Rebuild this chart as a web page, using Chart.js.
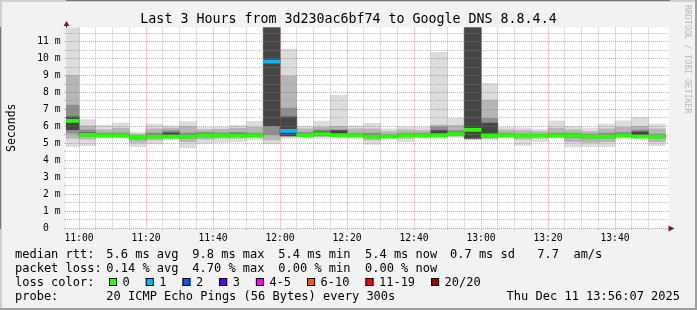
<!DOCTYPE html>
<html>
<head>
<meta charset="utf-8">
<script src="https://cdn.jsdelivr.net/npm/chart.js@4/dist/chart.umd.min.js"></script>
<style>
  html, body { margin: 0; padding: 0; background: #f2f2f2; }
  #wrap { width: 697px; height: 310px; }
</style>
</head>
<body>
<div id="wrap"><canvas id="smoke" width="697" height="310"></canvas></div>
<script>
// 5 minute slots (start times)
const slotTimes = ['10:55','11:00','11:05','11:10','11:15','11:20','11:25','11:30','11:35','11:40','11:45','11:50',
                   '11:55','12:00','12:05','12:10','12:15','12:20','12:25','12:30','12:35','12:40','12:45','12:50',
                   '12:55','13:00','13:05','13:10','13:15','13:20','13:25','13:30','13:35','13:40','13:45','13:50'];
const timeLabels = ['11:00','11:20','11:40','12:00','12:20','12:40','13:00','13:20','13:40'];
const viewStart = '10:56:07';
const viewEnd = '13:56:07';

// median rtt (ms) and lost pings per slot
const medianRtt = [6.32,5.50,5.45,5.45,5.35,5.40,5.40,5.40,5.47,5.45,5.45,5.45,
                   9.82,5.73,5.49,5.55,5.49,5.47,5.40,5.40,5.47,5.45,5.49,5.55,
                   5.79,5.47,5.47,5.45,5.45,5.45,5.49,5.40,5.40,5.45,5.40,5.40];
const lossCount = [0,0,0,0,0,0,0,0,0,0,0,0,
                   1,1,0,0,0,0,0,0,0,0,0,0,
                   0,0,0,0,0,0,0,0,0,0,0,0];

// smoke bands, outermost first (ms)
const smokeMin = [4.80,4.86,5.30,5.33,4.80,4.96,5.20,4.74,5.00,5.06,5.10,5.20,
                  4.98,5.30,5.30,5.30,5.30,5.30,4.94,5.30,5.10,5.30,5.30,5.35,
                  5.20,5.20,5.30,4.88,5.10,5.30,4.78,4.80,4.80,5.30,5.30,4.86];
const smokeMax = [13.5,6.40,6.06,6.20,5.65,6.14,6.04,6.28,5.94,5.96,6.07,6.30,
                  13.5,10.57,6.02,6.32,7.85,6.04,6.18,5.85,5.98,5.94,10.37,6.48,
                  13.5,8.54,5.94,5.92,5.82,6.33,6.00,5.90,6.14,6.33,6.53,6.14];
const band2Lo = [5.30,5.25,5.38,5.38,5.05,5.20,5.30,5.10,5.25,5.30,5.30,5.35,
                 5.20,5.38,5.38,5.40,5.38,5.38,5.20,5.34,5.30,5.38,5.38,5.42,
                 5.25,5.30,5.38,5.25,5.30,5.38,5.10,5.05,5.10,5.38,5.35,5.10];
const band2Hi = [9.00,6.04,5.80,5.90,5.55,5.85,5.90,6.00,5.80,5.82,5.90,5.95,
                 13.5,8.97,5.85,5.95,6.00,5.85,5.85,5.70,5.80,5.75,6.08,6.05,
                 13.5,7.56,5.80,5.75,5.70,5.90,5.80,5.70,5.85,5.95,6.00,5.85];
const band3Lo = [5.60,5.40,5.42,5.42,5.25,5.32,5.36,5.30,5.38,5.40,5.40,5.40,
                 5.49,5.42,5.42,5.45,5.42,5.42,5.32,5.37,5.40,5.42,5.42,5.48,
                 5.28,5.35,5.42,5.38,5.40,5.42,5.35,5.30,5.30,5.42,5.40,5.30];
const band3Hi = [7.26,5.80,5.60,5.62,5.45,5.62,5.75,5.62,5.65,5.62,5.65,5.60,
                 13.5,7.08,5.65,5.80,5.80,5.60,5.60,5.52,5.60,5.60,5.98,5.75,
                 13.5,6.47,5.60,5.55,5.55,5.60,5.60,5.55,5.60,5.65,5.80,5.55];
const band4Lo = [5.80,5.45,5.44,5.44,5.30,5.36,5.38,5.36,5.42,5.42,5.42,5.42,
                 6.04,5.45,5.44,5.48,5.45,5.44,5.36,5.38,5.42,5.44,5.45,5.50,
                 5.30,5.40,5.44,5.42,5.42,5.44,5.42,5.36,5.36,5.44,5.42,5.36];
const band4Hi = [6.57,5.62,5.52,5.52,5.40,5.48,5.62,5.48,5.55,5.52,5.55,5.52,
                 13.5,6.57,5.55,5.68,5.75,5.52,5.48,5.46,5.52,5.52,5.75,5.62,
                 13.5,6.20,5.52,5.50,5.50,5.52,5.55,5.46,5.46,5.52,5.68,5.46];

const lossLabels = ['0','1','2','3','4-5','6-10','11-19','20/20'];
const lossLimits = [0, 1, 2, 3, 5, 10, 19, 20];
const lossColors = ['#26ff00','#00b8ff','#0059ff','#5e00ff','#ff00ff','#ff5500','#ff0000','#a10000'];

const titleText = 'Last 3 Hours from 3d230ac6bf74 to Google DNS 8.8.4.4';
const statsRtt = [['median rtt:', 16], ['5.6 ms avg', 107.3], ['9.8 ms max', 193.3], ['5.4 ms min', 279.3],
                  ['5.4 ms now', 366], ['0.7 ms sd', 451], ['7.7  am/s', 538.3]];
const statsLoss = [['packet loss:', 16], ['0.14 % avg', 107.3], ['4.70 % max', 193.3], ['0.00 % min', 279.3],
                   ['0.00 % now', 366]];
const probeText = '20 ICMP Echo Pings (56 Bytes) every 300s';
const stampText = 'Thu Dec 11 13:56:07 2025';

const mono = 'DejaVu Sans Mono';
const toMin = t => { const p = t.split(':').map(Number); return p[0] * 60 + p[1] + (p[2] || 0) / 60; };
const fmt = v => { const h = Math.floor(v / 60), m = Math.round(v - h * 60); return h + ':' + String(m).padStart(2, '0'); };
const starts = slotTimes.map(toMin);
const centers = starts.map(s => s + 2.5);
const band = (lo, hi) => centers.map((x, i) => ({x: x, y: [lo[i], hi[i]]}));
const lossColor = n => lossColors[lossLimits.findIndex(l => n <= l)];

const rrdFrame = {
  id: 'rrdFrame',
  beforeDraw(chart) {
    const {ctx, width, height, chartArea: a} = chart;
    ctx.save();
    ctx.fillStyle = '#f2f2f2';
    ctx.fillRect(0, 0, width, height);
    ctx.fillStyle = '#cfcfcf';
    ctx.fillRect(0, 0, width, 2);
    ctx.fillRect(0, 0, 2, height);
    ctx.fillStyle = '#9e9e9e';
    ctx.fillRect(0, height - 2, width, 2);
    ctx.fillRect(width - 2, 0, 2, height);
    ctx.fillStyle = '#ffffff';
    ctx.fillRect(a.left, a.top, a.right - a.left, a.bottom - a.top);
    ctx.restore();
  },
  afterDraw(chart) {
    const {ctx, width, chartArea: a} = chart;
    ctx.save();
    // axis arrows
    ctx.strokeStyle = '#1f1f1f';
    ctx.lineWidth = 1;
    ctx.beginPath();
    ctx.moveTo(a.left + 0.5, a.top); ctx.lineTo(a.left + 0.5, a.top - 3);
    ctx.stroke();
    ctx.fillStyle = '#7f1f1f';
    ctx.beginPath();
    ctx.moveTo(a.left + 0.5, a.top - 6.5); ctx.lineTo(a.left + 3.5, a.top - 1.5); ctx.lineTo(a.left - 2.5, a.top - 1.5);
    ctx.closePath(); ctx.fill();
    ctx.beginPath();
    ctx.moveTo(a.right + 5.5, a.bottom + 0.5); ctx.lineTo(a.right - 0.5, a.bottom - 2.5); ctx.lineTo(a.right - 0.5, a.bottom + 3.5);
    ctx.closePath(); ctx.fill();

    // title
    ctx.font = '13.3px ' + mono;
    ctx.fillStyle = '#000';
    ctx.textAlign = 'center';
    ctx.textBaseline = 'middle';
    ctx.fillText(titleText, width / 2, 19.5);

    // watermark
    ctx.save();
    ctx.translate(687, 5);
    ctx.rotate(Math.PI / 2);
    ctx.font = '8.2px ' + mono;
    ctx.fillStyle = '#b8b8b8';
    ctx.textAlign = 'left';
    ctx.fillText('RRDTOOL / TOBI OETIKER', 0, 0);
    ctx.restore();

    // legend
    ctx.font = '12px ' + mono;
    ctx.fillStyle = '#000';
    ctx.textAlign = 'left';
    statsRtt.forEach(([t, x]) => ctx.fillText(t, x - 1, 254.5));
    statsLoss.forEach(([t, x]) => ctx.fillText(t, x - 1, 268.5));
    ctx.fillText('loss color:', 15, 282.5);
    let bx = 109;
    lossLabels.forEach((lab, i) => {
      ctx.fillStyle = lossColors[i];
      ctx.fillRect(bx, 278, 8, 8);
      ctx.strokeStyle = '#000';
      ctx.strokeRect(bx + 0.5, 278.5, 7, 7);
      ctx.fillStyle = '#000';
      const tx = bx + 14.5;
      ctx.fillText(lab, tx - 1, 282.5);
      bx = tx + ctx.measureText(lab).width + 15;
    });
    ctx.fillText('probe:', 15, 296.5);
    ctx.fillText(probeText, 106.3, 296.5);
    ctx.textAlign = 'right';
    ctx.fillText(stampText, 680, 296.5);
    ctx.restore();
  }
};

const minorGrid = 'rgba(143,143,143,0.55)';
const majorGrid = 'rgba(222,79,79,0.55)';

new Chart(document.getElementById('smoke'), {
  type: 'bar',
  data: {
    datasets: [
      {label: 'median', data: centers.map((x, i) => ({x: x, y: [medianRtt[i] - 0.09, medianRtt[i] + 0.09]})),
       backgroundColor: lossCount.map(lossColor), order: 0},
      {label: 'b4', data: band(band4Lo, band4Hi), backgroundColor: '#464646', order: 1},
      {label: 'b3', data: band(band3Lo, band3Hi), backgroundColor: '#8e8e8e', order: 2},
      {label: 'b2', data: band(band2Lo, band2Hi), backgroundColor: '#b6b6b6', order: 3},
      {label: 'b1', data: band(smokeMin, smokeMax), backgroundColor: '#dcdcdc', order: 4}
    ]
  },
  options: {
    responsive: false,
    animation: false,
    layout: {padding: {left: 0, right: 28, top: 27.5, bottom: 0}},
    datasets: {bar: {grouped: false, barPercentage: 1, categoryPercentage: 1, borderWidth: 0}},
    plugins: {
      legend: {display: false},
      tooltip: {enabled: false}
    },
    scales: {
      x: {
        type: 'linear',
        offset: false,
        min: toMin(viewStart),
        max: toMin(viewEnd),
        afterBuildTicks: s => { s.ticks = starts.filter(v => v > s.min).map(v => ({value: v})); },
        afterFit: s => { s.height = 82; },
        ticks: {
          autoSkip: false, maxRotation: 0, padding: 2.5, color: '#000',
          font: {family: mono, size: 9.7},
          callback: v => { const l = fmt(v); return timeLabels.includes(l) ? l : ''; }
        },
        grid: {
          z: 1, offset: false, lineWidth: 1, tickLength: 2,
          color: c => (c.tick && timeLabels.includes(fmt(c.tick.value))) ? majorGrid : minorGrid,
          tickColor: minorGrid
        },
        border: {display: true, color: '#1f1f1f', width: 1, dash: [1, 1]}
      },
      y: {
        min: 0,
        max: 11.84,
        afterFit: s => { s.width = 66; },
        ticks: {
          stepSize: 0.5, includeBounds: false, autoSkip: false, padding: 3.5, color: '#000',
          font: {family: mono, size: 9.7},
          callback: v => Number.isInteger(v) ? (v === 0 ? '0  ' : v + ' m') : ''
        },
        grid: {
          z: 1, lineWidth: 1, tickLength: 2,
          color: c => (c.tick && Number.isInteger(c.tick.value)) ? majorGrid : minorGrid,
          tickColor: minorGrid
        },
        border: {display: true, color: '#1f1f1f', width: 1, dash: [1, 1]},
        title: {display: true, text: 'Seconds', color: '#000', font: {family: mono, size: 11.5}, padding: {top: 5, bottom: 0}}
      }
    }
  },
  plugins: [rrdFrame]
});
</script>
</body>
</html>
